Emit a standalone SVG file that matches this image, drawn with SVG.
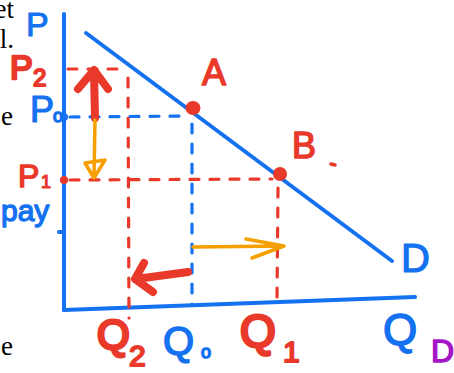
<svg xmlns="http://www.w3.org/2000/svg" width="454" height="373" viewBox="0 0 454 373">
<style>
.doc{font-family:"Liberation Serif",serif;font-size:27px;fill:#000}
.hw{font-family:"Liberation Sans",Arial,sans-serif;stroke-linejoin:round}
.red{fill:#e8392a;stroke:#e8392a}
.blue{fill:#1471f0;stroke:#1471f0}
.purple{fill:#a516c9;stroke:#a516c9}
.axis{stroke:#1471f0;stroke-width:4;fill:none;stroke-linecap:round}
.dr{stroke:#e8392a;stroke-width:3.2;fill:none;stroke-linecap:round;stroke-dasharray:9 11}
.db{stroke:#1471f0;stroke-width:3.2;fill:none;stroke-linecap:round;stroke-dasharray:9 11}
.ar{stroke:#e8392a;stroke-width:8;fill:none;stroke-linecap:round;stroke-linejoin:round}
.ao{stroke:#f5a000;stroke-width:3.5;fill:none;stroke-linecap:round;stroke-linejoin:round}
</style>
<rect width="454" height="373" fill="#fff"/>
<g id="doc-text">
<text class="doc" x="14" y="18" text-anchor="end">et</text>
<text class="doc" x="14" y="48" text-anchor="end">l.</text>
<text class="doc" x="13" y="125" text-anchor="end">e</text>
<text class="doc" x="13" y="355" text-anchor="end">e</text>
</g>
<g id="axes">
<line class="axis" x1="64" y1="14" x2="64" y2="310"/>
<line class="axis" x1="64" y1="310" x2="415" y2="297"/>
<line class="axis" x1="59" y1="232" x2="64" y2="232" stroke-width="3"/>
</g>
<g id="demand">
<line class="axis" x1="86" y1="33" x2="392" y2="261"/>
</g>
<g id="connectors">
<line class="dr" x1="68" y1="69" x2="128" y2="69"/>
<line class="dr" x1="128" y1="78" x2="129" y2="318"/>
<line class="db" x1="70" y1="117" x2="186" y2="116"/>
<line class="db" x1="192" y1="124" x2="192" y2="305"/>
<line class="dr" x1="70" y1="180" x2="272" y2="179"/>
<line class="dr" x1="278" y1="188" x2="277" y2="300"/>
<circle cx="64" cy="117" r="4" fill="#1471f0"/>
<circle cx="64" cy="180" r="4" fill="#e8392a"/>
<path class="ar" d="M95 118 L94 72 M78 89 L94 70 L108 89"/>
<path class="ao" d="M95 120 L94 178 M85 163 L94 178 L105 160 Z"/>
<path class="ao" d="M193 247 L284 246 M246 239 L284 246 L252 258"/>
<path class="ar" d="M188 272 L136 279 M144 263 L135 279 L153 292"/>
</g>
<g id="point-A">
<ellipse cx="193" cy="108" rx="7.5" ry="7" fill="#e8392a"/>
<text class="hw red" x="202" y="85" font-size="36" stroke-width="1.5">A</text>
</g>
<g id="point-B">
<circle cx="280" cy="174" r="7" fill="#e8392a"/>
<text class="hw red" x="292" y="158" font-size="36" stroke-width="1.5">B</text>
<line x1="331" y1="164" x2="335" y2="165" stroke="#e8392a" stroke-width="3.5" stroke-linecap="round"/>
</g>
<g id="labels">
<text class="hw blue" x="26" y="36" font-size="34" stroke-width="1">P</text>
<text class="hw red" x="10" y="79" font-size="34" stroke-width="2.5">P</text>
<text class="hw red" x="33" y="86" font-size="24" stroke-width="2">2</text>
<text class="hw blue" x="30" y="122" font-size="36" stroke-width="1.2">P</text>
<text class="hw blue" x="53" y="122" font-size="18" stroke-width="1.5">o</text>
<text class="hw red" x="18" y="187" font-size="32" stroke-width="1.5">P</text>
<text class="hw red" x="41" y="188" font-size="18" stroke-width="1.2">1</text>
<text class="hw blue" x="1" y="221" font-size="30" stroke-width="1.3">pay</text>
<text class="hw blue" x="401" y="272" font-size="40" stroke-width="1.2">D</text>
<text class="hw red" x="97" y="349" font-size="42" stroke-width="3">Q</text>
<text class="hw red" x="129" y="366" font-size="30" stroke-width="2">2</text>
<text class="hw blue" x="163" y="355" font-size="40" stroke-width="1.5">Q</text>
<text class="hw blue" x="201" y="358" font-size="18" stroke-width="1.5">o</text>
<text class="hw red" x="240" y="347" font-size="46" stroke-width="3">Q</text>
<text class="hw red" x="283" y="362" font-size="30" stroke-width="2">1</text>
<text class="hw blue" x="383" y="345" font-size="44" stroke-width="1.5">Q</text>
<text class="hw purple" x="431" y="362" font-size="32" stroke-width="1.5">D</text>
</g>
</svg>
